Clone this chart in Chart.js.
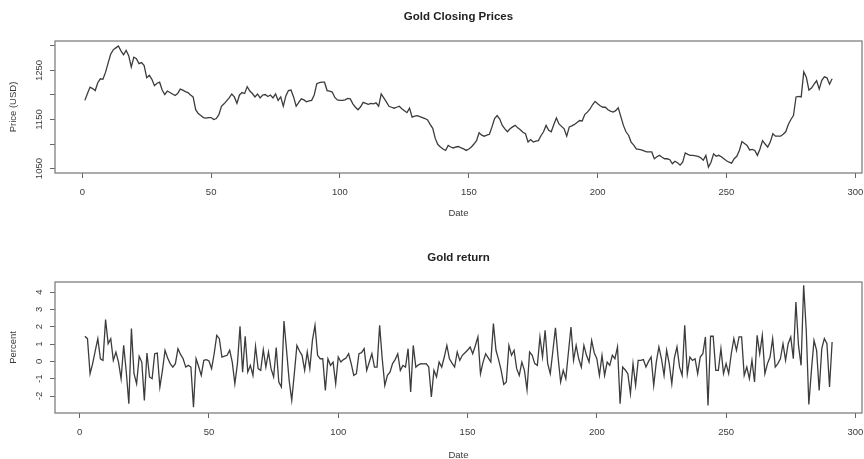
<!DOCTYPE html>
<html>
<head>
<meta charset="utf-8">
<script src="https://cdn.jsdelivr.net/npm/chart.js@4"></script>
<style>
  html, body { margin: 0; padding: 0; background: #fff; overflow: hidden; }
  #wrap { position: relative; width: 864px; height: 459px; }
  canvas { position: absolute; left: 0; }
</style>
</head>
<body>
<div id="wrap">
  <canvas id="priceChart" width="864" height="230" style="top:0"></canvas>
  <canvas id="returnChart" width="864" height="240" style="top:230px"></canvas>
</div>
<script>
const prices = [
  1189, 1203, 1216, 1213, 1209, 1225, 1233, 1232, 1246, 1265,
  1283, 1292, 1296, 1300, 1290, 1282, 1291, 1280, 1257, 1277,
  1274, 1264, 1266, 1260, 1235, 1240, 1232, 1219, 1224, 1226,
  1210, 1201, 1208, 1205, 1202, 1199, 1203, 1212, 1210, 1207,
  1205, 1200, 1196, 1170, 1162, 1158, 1154, 1153, 1154, 1154,
  1150, 1152, 1160, 1177, 1182, 1188, 1194, 1202, 1196, 1183,
  1200, 1205, 1203, 1217, 1208, 1203, 1196, 1202, 1194, 1200,
  1201, 1197, 1200, 1194, 1202, 1189, 1196, 1177, 1198, 1209,
  1210, 1196, 1177, 1185, 1192, 1190, 1186, 1188, 1189, 1200,
  1223, 1225, 1226, 1226, 1209, 1208, 1206, 1195, 1190, 1189,
  1189, 1190, 1193, 1192, 1182, 1175, 1170, 1176, 1185, 1183,
  1181, 1183, 1182, 1184, 1177, 1202, 1194, 1186, 1177, 1175,
  1173, 1175, 1177, 1172, 1168, 1164, 1173, 1155, 1157, 1158,
  1156, 1154, 1152, 1149, 1140, 1132, 1111, 1099, 1094, 1090,
  1087, 1097, 1094, 1092, 1094, 1095, 1092, 1090, 1087, 1090,
  1094, 1100, 1107, 1123, 1118, 1116, 1118, 1120, 1135, 1152,
  1158, 1151, 1138, 1131, 1125, 1131, 1135, 1138, 1133, 1129,
  1124, 1121, 1104, 1109, 1104, 1106, 1107, 1117, 1125, 1138,
  1128, 1125, 1140, 1153, 1141, 1136, 1131, 1116, 1135, 1137,
  1140, 1144, 1148, 1147, 1160, 1165, 1171, 1180, 1187, 1182,
  1178, 1175, 1175, 1170, 1167, 1165, 1168, 1174, 1156, 1138,
  1125, 1118, 1104, 1098, 1090, 1089, 1088, 1086, 1084, 1084,
  1084, 1070, 1074, 1077, 1073, 1070, 1070, 1068, 1060, 1065,
  1062, 1057, 1063, 1082, 1079, 1077, 1077, 1076, 1075, 1072,
  1067, 1077, 1053, 1063, 1080, 1075, 1077, 1074, 1070, 1066,
  1063, 1061, 1070, 1075, 1087, 1105, 1101, 1097, 1088, 1089,
  1087, 1077, 1090, 1107, 1100, 1094, 1104, 1121, 1116, 1116,
  1116, 1120, 1125, 1140, 1150, 1158, 1196, 1197, 1196, 1247,
  1236, 1210, 1214, 1222, 1229, 1212, 1230, 1237, 1235, 1222, 1233
];

// daily return in percent, observation 2..291
const returnsStart = 2;
const returns = [
  1.45, 1.31, -0.71, -0.13, 0.6, 1.31, 0.15, 0.06, 2.41,
  1.02, 1.31, 0.06, 0.54, -0.04, -1.0, 0.92, -0.6, -2.45, 1.89,
  -0.71, -1.29, 0.29, -0.04, -2.25, 0.48, -0.9, -1.0, 0.44, 0.48,
  -1.48, -0.52, 0.64, 0.2, -0.13, -0.33, -0.13, 0.73, 0.4, 0.15,
  -0.33, -0.23, -0.33, -2.64, 0.15, -0.3, -0.81, 0.06, 0.1, 0.02,
  -0.42, 0.44, 1.5, 1.31, 0.25, 0.3, 0.35, 0.64, -0.04, -1.29,
  -0.13, 2.02, -0.62, 1.45, -0.62, -0.23, -0.81, 0.87, -0.42, -0.52,
  0.67, -0.33, 0.54, -0.42, -0.9, 0.79, -1.19, -1.48, 2.33, 0.64,
  -1.1, -2.25, -0.71, 0.92, 0.6, 0.35, -0.52, 0.54, -0.42, 1.21,
  2.08, 0.35, 0.15, 0.15, -1.68, 0.15, -0.23, -0.04, -1.29, 0.25,
  -0.04, 0.1, 0.19, 0.44, -0.13, -0.81, -0.71, 0.44, 0.5, 0.73,
  -0.52, -0.04, 0.44, -0.33, -0.33, 2.08, 0.15, -1.39, -0.8, -0.62,
  -0.13, 0.1, 0.44, -0.52, -0.23, -0.33, 0.73, -1.77, 0.92, -0.33,
  -0.2, -0.13, -0.15, -0.13, -0.33, -2.06, -0.52, -0.9, -0.04, -0.33,
  0.25, 0.92, 0.15, -0.1, -0.33, 0.54, 0.06, 0.35, 0.5, 0.64,
  0.83, 0.44, 0.9, 1.41, -0.71, -0.04, 0.44, 0.2, -0.04, 2.18,
  0.64, 0.1, -0.52, -1.33, -1.19, 0.92, 0.35, 0.64, -0.42, -0.81,
  -0.04, -0.52, -1.64, 0.54, 0.35, -0.13, -0.23, 1.41, 0.25, 1.79,
  -0.13, -0.71, 0.6, 1.93, 0.25, -1.19, -0.52, -1.0, 0.5, 1.98,
  0.06, 0.92, 0.15, -0.33, 0.92, 0.35, -0.04, 1.21, 0.5, 0.15,
  -0.81, 0.35, -0.81, -0.04, -0.23, 0.35, 0.15, 0.83, -2.45, -0.33,
  -0.5, -0.71, -1.87, -0.13, -1.39, 0.06, 0.06, 0.1, -0.33, 0.0,
  0.25, -1.39, -0.04, 0.83, 0.15, -0.81, 0.64, -0.13, -1.29, 0.2,
  0.83, -0.33, -0.81, 2.08, -0.71, 0.25, 0.06, 0.15, -0.71, 0.25,
  0.44, 1.41, -2.54, 1.45, 1.45, -0.52, -0.52, 0.73, -0.71, -0.13,
  -0.71, 0.44, 1.31, 0.64, 1.41, 1.41, -0.81, -0.33, -1.0, 0.06,
  -1.19, 1.5, 0.44, 1.5, -0.71, -0.13, 0.25, 1.31, -0.33, -0.13,
  0.15, 1.02, 0.06, 1.02, 1.41, 0.15, 3.43, 0.92, -0.23, 4.39,
  1.79, -2.49, -0.52, 1.21, 0.64, -1.68, 0.73, 1.31, 1.02, -1.48,
  1.12
];

const priceTickLabels = [1050, 1150, 1250];
const returnTickLabels = [-2, -1, 0, 1, 2, 3, 4];

const FONT = '"Liberation Sans", Arial, Helvetica, sans-serif';
const TEXT = '#3a3a3a';
const SMALL = 9.5;

// R style: box round the plot region and vertical tick labels on the y axis
const rFrame = {
  id: 'rFrame',
  afterDraw(chart, args, opts) {
    const { ctx, chartArea: a, scales } = chart;
    ctx.save();
    ctx.strokeStyle = '#808080';
    ctx.lineWidth = 1.3;
    ctx.strokeRect(a.left, a.top, a.right - a.left, a.bottom - a.top);
    ctx.fillStyle = TEXT;
    ctx.font = SMALL + 'px ' + FONT;
    ctx.textAlign = 'center';
    ctx.textBaseline = 'middle';
    opts.labels.forEach(v => {
      ctx.save();
      ctx.translate(39, scales.y.getPixelForValue(v));
      ctx.rotate(-Math.PI / 2);
      ctx.fillText(String(v), 0, 0);
      ctx.restore();
    });
    ctx.restore();
  }
};

function makeChart(id, cfg) {
  return new Chart(document.getElementById(id), {
    type: 'line',
    data: {
      datasets: [{
        data: cfg.points,
        borderColor: '#3c3c3c',
        borderWidth: 1.3,
        pointRadius: 0,
        tension: 0,
        fill: false
      }]
    },
    options: {
      responsive: false,
      animation: false,
      events: [],
      layout: { padding: { left: 0, right: 2, top: 0, bottom: 0 } },
      plugins: {
        legend: { display: false },
        tooltip: { enabled: false },
        title: {
          display: true,
          text: cfg.title,
          fullSize: false,
          color: '#222',
          font: { family: FONT, size: 11.5, weight: 'bold', lineHeight: 1.2 },
          padding: cfg.titlePad
        },
        rFrame: { labels: cfg.yLabels }
      },
      scales: {
        x: {
          type: 'linear',
          min: cfg.xMin,
          max: cfg.xMax,
          afterFit: s => {
            s.height = cfg.xHeight;
            s.paddingLeft = 0;
            s.paddingRight = 0;
          },
          border: { display: false },
          grid: { drawOnChartArea: false, drawTicks: true, tickLength: 5, color: '#666' },
          ticks: {
            stepSize: 50,
            includeBounds: false,
            autoSkip: false,
            maxRotation: 0,
            padding: 9,
            color: TEXT,
            font: { family: FONT, size: SMALL }
          },
          title: {
            display: true,
            text: 'Date',
            color: TEXT,
            font: { family: FONT, size: SMALL, lineHeight: 1.2 },
            padding: { top: cfg.datePad, bottom: cfg.datePad }
          }
        },
        y: {
          type: 'linear',
          min: cfg.yMin,
          max: cfg.yMax,
          afterFit: s => {
            s.width = 55;
            s.paddingTop = 0;
            s.paddingBottom = 0;
          },
          border: { display: false },
          grid: { drawOnChartArea: false, drawTicks: true, tickLength: 5, color: '#666' },
          ticks: {
            stepSize: cfg.yStep,
            includeBounds: false,
            autoSkip: false,
            callback: () => '',
            font: { family: FONT, size: SMALL }
          },
          title: {
            display: true,
            text: cfg.yTitle,
            color: TEXT,
            font: { family: FONT, size: SMALL, lineHeight: 1.2 },
            padding: { top: 8, bottom: 8 }
          }
        }
      }
    },
    plugins: [rFrame]
  });
}

makeChart('priceChart', {
  title: 'Gold Closing Prices',
  titlePad: { top: 10.1, bottom: 17.1 },
  points: prices.map((v, i) => ({ x: i + 1, y: v })),
  xMin: -10.6, xMax: 302.6, xHeight: 57, datePad: 11,
  yMin: 1041, yMax: 1310, yStep: 50,
  yTitle: 'Price (USD)',
  yLabels: priceTickLabels
});

makeChart('returnChart', {
  title: 'Gold return',
  titlePad: { top: 21.1, bottom: 17.1 },
  points: returns.map((v, i) => ({ x: i + returnsStart, y: v })),
  xMin: -9.56, xMax: 302.56, xHeight: 57, datePad: 9,
  yMin: -2.98, yMax: 4.58, yStep: 1,
  yTitle: 'Percent',
  yLabels: returnTickLabels
});
</script>
</body>
</html>
